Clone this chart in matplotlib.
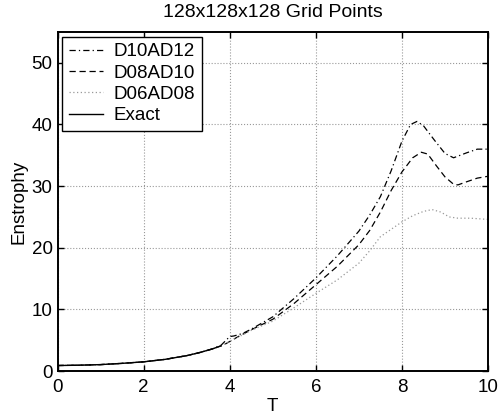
import matplotlib
matplotlib.use("Agg")
import matplotlib.pyplot as plt

plt.rcParams['font.family'] = ['Liberation Sans', 'DejaVu Sans']

# shared early part (all runs follow the exact solution)
t_exact = [0.0, 0.5, 1.0, 1.5, 2.0, 2.5, 3.0, 3.3, 3.6, 3.8]
e_exact = [0.9, 0.95, 1.05, 1.25, 1.5, 1.9, 2.5, 3.0, 3.6, 4.1]

t_d10 = [0.0, 0.5, 1.0, 1.5, 2.0, 2.5, 3.0, 3.3, 3.6, 3.8, 3.9, 4.0, 4.1, 4.3, 4.5,
         5.0, 5.5, 6.0, 6.5, 7.0, 7.25, 7.5, 7.75, 8.0, 8.2, 8.35, 8.5, 8.75,
         9.0, 9.2, 9.5, 9.75, 10.0]
e_d10 = [0.9, 0.95, 1.05, 1.25, 1.5, 1.9, 2.5, 3.0, 3.6, 4.2, 4.9, 5.6, 5.7, 6.1, 6.8,
         8.8, 11.8, 15.1, 18.7, 22.7, 25.3, 28.3, 32.5, 37.3, 40.0, 40.5, 39.8, 37.5,
         35.3, 34.6, 35.4, 36.0, 36.0]

t_d08 = [0.0, 0.5, 1.0, 1.5, 2.0, 2.5, 3.0, 3.3, 3.6, 3.8, 3.9, 4.0, 4.2, 4.5,
         5.0, 5.5, 6.0, 6.5, 7.0, 7.25, 7.5, 7.75, 8.0, 8.25, 8.45, 8.6, 8.8,
         9.0, 9.2, 9.3, 9.5, 9.75, 10.0]
e_d08 = [0.9, 0.95, 1.05, 1.25, 1.5, 1.9, 2.5, 3.0, 3.6, 4.1, 4.4, 4.8, 5.6, 6.7,
         8.4, 11.0, 14.0, 17.0, 20.5, 22.8, 25.8, 29.3, 32.3, 34.6, 35.5, 35.2, 33.3,
         31.5, 30.3, 30.2, 30.7, 31.3, 31.6]

t_d06 = [0.0, 0.5, 1.0, 1.5, 2.0, 2.5, 3.0, 3.3, 3.6, 3.8, 4.0, 4.5,
         5.0, 5.5, 6.0, 6.5, 7.0, 7.25, 7.5, 7.75, 8.0, 8.25, 8.5, 8.7,
         8.9, 9.1, 9.3, 9.6, 10.0]
e_d06 = [0.9, 0.95, 1.05, 1.25, 1.5, 1.9, 2.5, 3.0, 3.6, 4.1, 4.8, 6.6,
         8.1, 10.3, 12.6, 14.8, 17.5, 19.5, 21.8, 23.0, 24.2, 25.2, 25.9, 26.2,
         25.8, 25.0, 24.8, 24.8, 24.6]

fig = plt.figure(figsize=(4.98, 4.16), dpi=100)
ax = fig.add_axes([0.1155, 0.108, 0.8645, 0.815])

ax.plot(t_d10, e_d10, color='black', linestyle=(0, (5, 2.5, 1, 2.5)), linewidth=0.9, label='D10AD12')
ax.plot(t_d08, e_d08, color='black', linestyle=(0, (5, 3)), linewidth=0.9, label='D08AD10')
ax.plot(t_d06, e_d06, color='#999999', linestyle=(0, (1, 2)), linewidth=0.9, label='D06AD08')
ax.plot(t_exact, e_exact, color='black', linestyle='-', linewidth=1.0, label='Exact')

ax.set_xlim(0, 10)
ax.set_ylim(0, 55)
ax.set_xticks([0, 2, 4, 6, 8, 10])
ax.set_yticks([0, 10, 20, 30, 40, 50])
ax.tick_params(direction='in', top=True, right=True, labelsize=13.5, length=4, width=1)
ax.tick_params(axis='x', pad=6)
ax.grid(True, color='#999999', linestyle=':', linewidth=0.8)
for s in ax.spines.values():
    s.set_linewidth(1.4)

ax.set_xlabel('T', fontsize=13.5, labelpad=1)
ax.set_ylabel('Enstrophy', fontsize=13.5, labelpad=3)
ax.set_title('128x128x128 Grid Points', fontsize=14, pad=11)

leg = ax.legend(loc='upper left', fontsize=13.5, fancybox=False, framealpha=1,
                edgecolor='black', borderpad=0.35, labelspacing=0.22,
                handlelength=1.8, handletextpad=0.6, borderaxespad=0.25)
leg.get_frame().set_linewidth(1.0)

fig.savefig('out.png', dpi=100)
